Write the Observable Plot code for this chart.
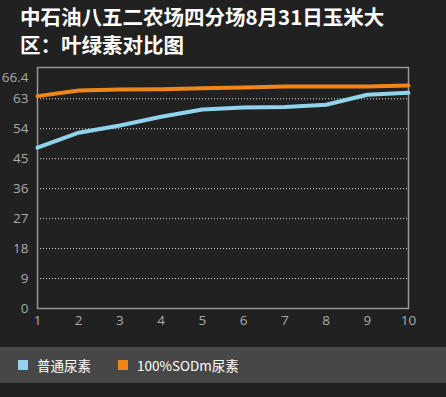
<!DOCTYPE html>
<html><head><meta charset="utf-8">
<script src="https://cdn.jsdelivr.net/npm/d3@7"></script>
<script src="https://cdn.jsdelivr.net/npm/@observablehq/plot@0.6"></script>
<style>
html,body{margin:0;padding:0;background:#212121;width:446px;height:397px;overflow:hidden;font-family:"Noto Sans CJK SC","Noto Sans",sans-serif;}
#title{position:absolute;left:20px;top:2px;color:#fff;font-weight:bold;font-size:20.5px;line-height:28px;}
#chart{position:absolute;left:0;top:58px;}
#legend{position:absolute;left:0;top:347px;width:446px;height:36px;background:#474747;color:#fff;font-size:13.5px;}
.item{position:absolute;top:0;height:36px;display:flex;align-items:center;}
.sw{width:10px;height:10px;margin-right:9px;}
</style></head>
<body>
<div id="title">中石油八五二农场四分场8月31日玉米大<br>区：叶绿素对比图</div>
<div id="chart"></div>
<div id="legend"></div>
<script>
const categories = [1,2,3,4,5,6,7,8,9,10];
const seriesNames = ["普通尿素","100%SODm尿素"];
const normalUrea = [48.3,52.8,55.0,57.6,59.8,60.4,60.5,61.2,64.2,64.8];
const sodmUrea = [63.8,65.5,65.8,65.9,66.2,66.4,66.7,66.7,66.7,67.0];
const gridTicks = [9,18,27,36,45,54,63];
const yTicks = [0,9,18,27,36,45,54,63];
const yMaxTick = [66.4];
const colors = ["#8fd4ec","#f0861a"];

const data = [];
categories.forEach((c,i)=>{
  data.push({x:c,y:normalUrea[i],s:seriesNames[0]});
  data.push({x:c,y:sodmUrea[i],s:seriesNames[1]});
});

const chart = Plot.plot({
  width:446, height:275,
  marginLeft:37, marginRight:38, marginTop:9, marginBottom:25,
  style:{background:"transparent",color:"#aaa",fontSize:"13.5px",fontFamily:"'Open Sans','Noto Sans',sans-serif"},
  x:{domain:[1,10], label:null},
  y:{domain:[0,72.4], label:null},
  color:{domain:seriesNames, range:colors},
  marks:[
    Plot.axisX({ticks:categories, tickSize:0, tickPadding:7, tickFormat:d=>String(d), fill:"#aaa"}),
    Plot.axisY({ticks:yTicks, tickSize:0, tickPadding:9, tickFormat:d=>String(d), fill:"#aaa"}),
    Plot.axisY({ticks:yMaxTick, tickSize:0, tickPadding:9, dy:-10, tickFormat:d=>String(d), fill:"#aaa"}),
    Plot.ruleY(gridTicks,{stroke:"#e0e0e0",strokeDasharray:"1,2",strokeWidth:1}),
    Plot.frame({stroke:"#999",strokeWidth:1.5}),
    Plot.line(data,{x:"x",y:"y",z:"s",stroke:"s",strokeWidth:4,curve:"linear"})
  ]
});
document.getElementById("chart").appendChild(chart);

const legend = document.getElementById("legend");
const lefts = [18,118];
seriesNames.forEach((n,i)=>{
  const it = document.createElement("div");
  it.className="item"; it.style.left=lefts[i]+"px";
  it.innerHTML = `<div class="sw" style="background:${colors[i]}"></div><span>${n}</span>`;
  legend.appendChild(it);
});
</script>
</body></html>
